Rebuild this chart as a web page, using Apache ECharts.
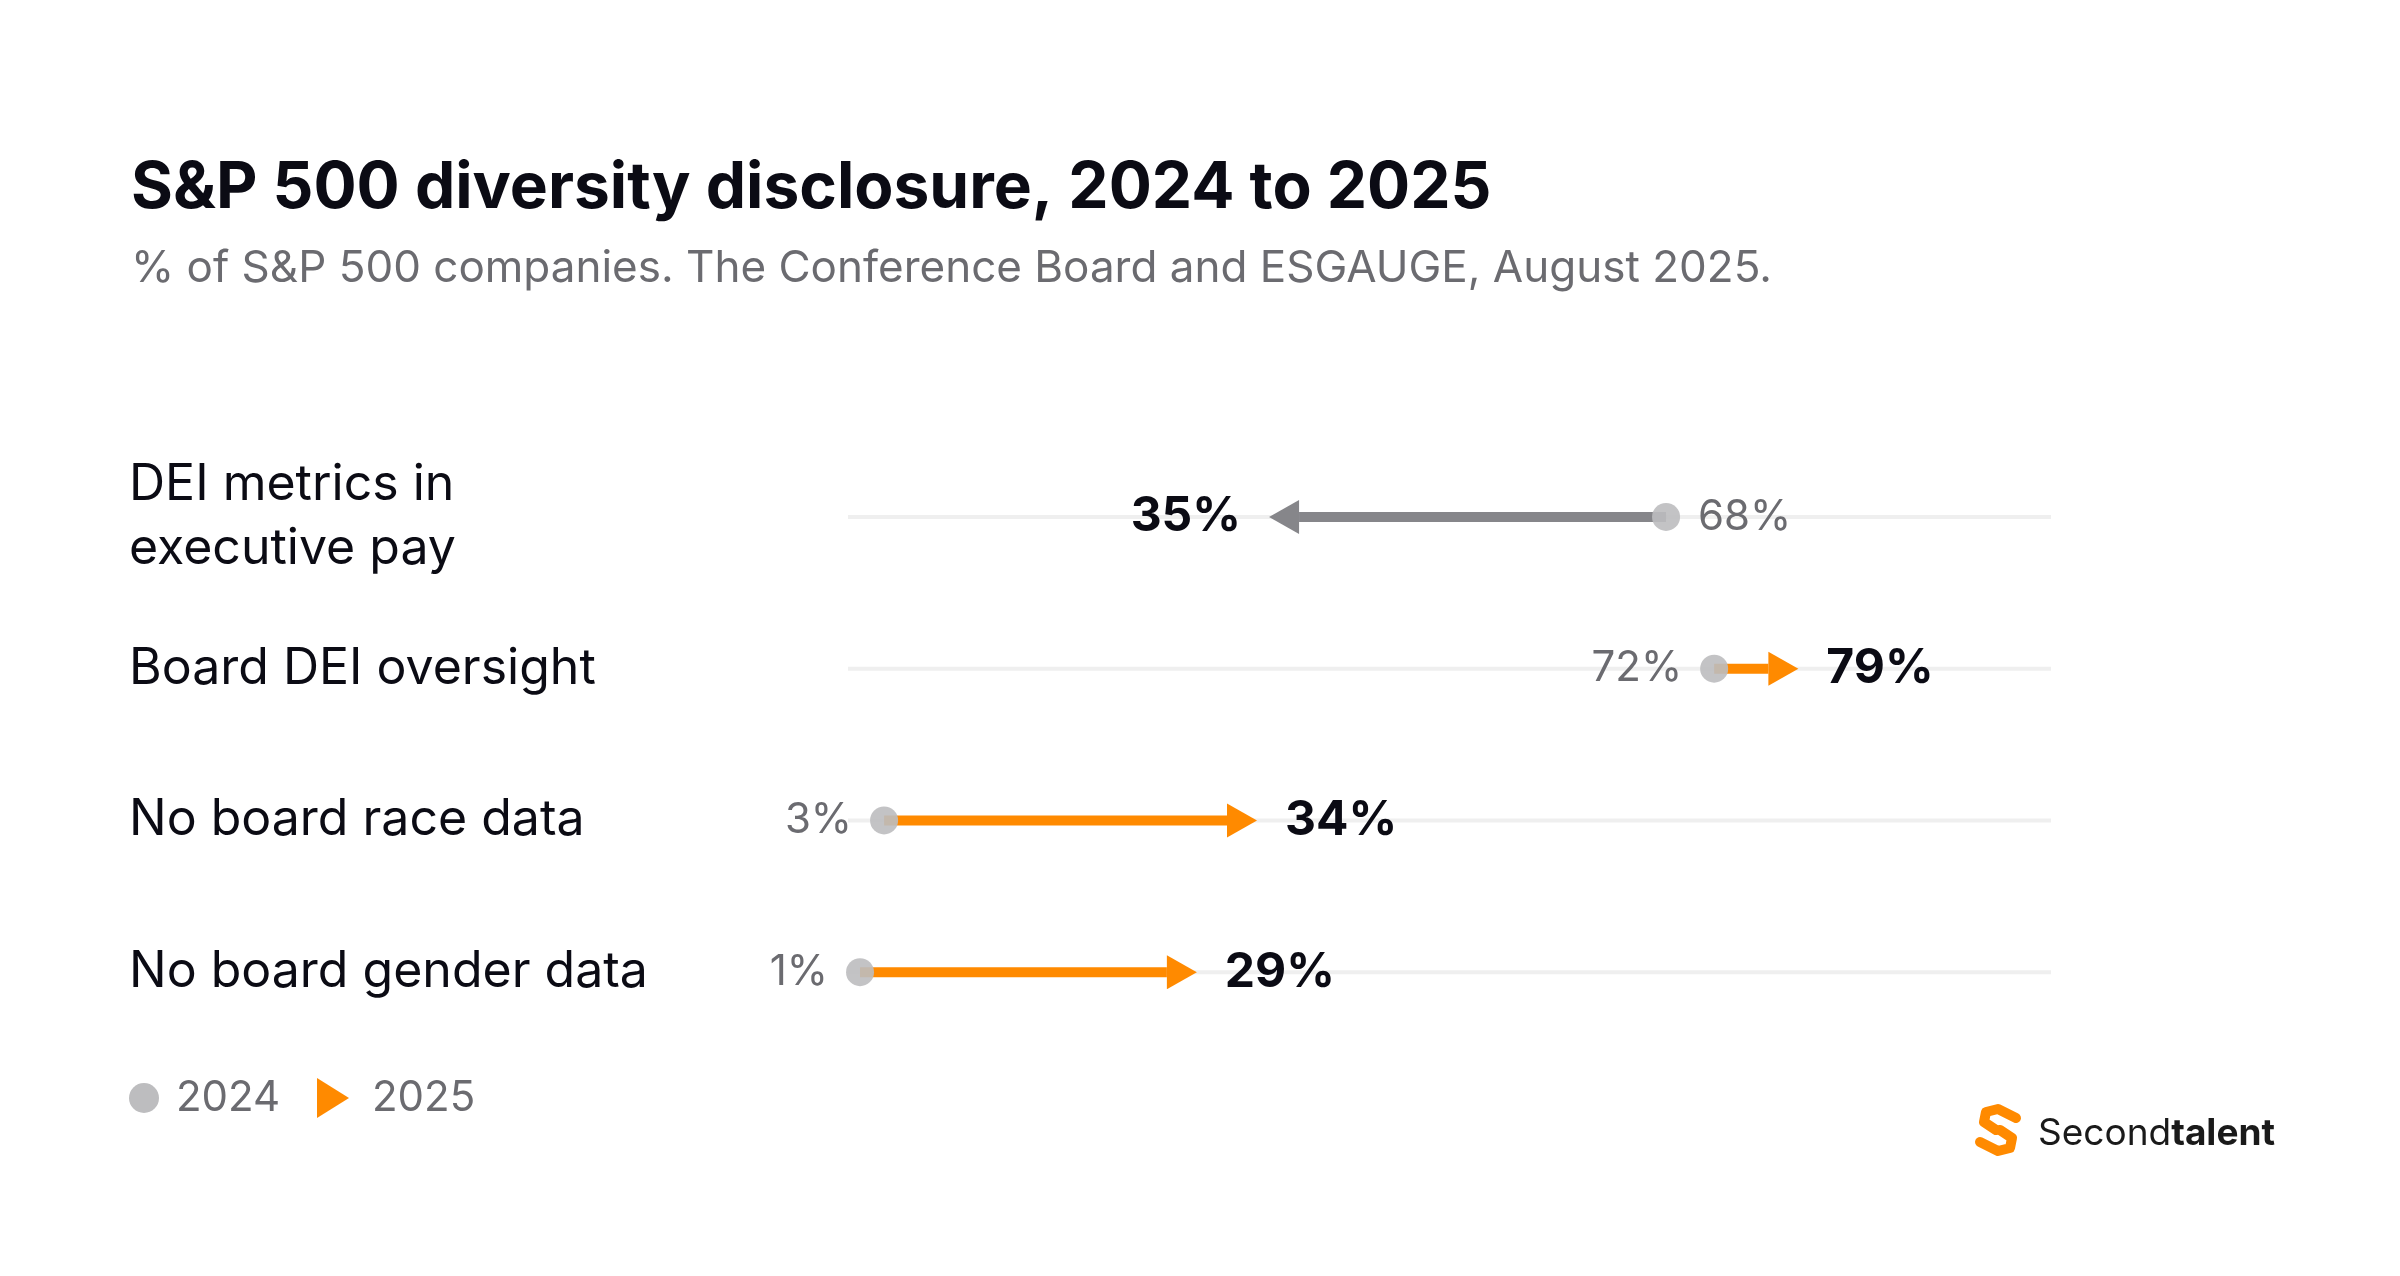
<!DOCTYPE html>
<html>
<head>
<meta charset="utf-8">
<style>html,body{margin:0;padding:0;background:#fff}#main{width:2400px;height:1276px}</style>
<script src="https://cdn.jsdelivr.net/npm/echarts@6/dist/echarts.min.js"></script>
</head>
<body>
<div id="main"></div>
<script>
var categories = ["DEI metrics in\nexecutive pay", "Board DEI oversight", "No board race data", "No board gender data"];
var values2024 = [68, 72, 3, 1];
var values2025 = [35, 79, 34, 29];

var FONT = "Inter, 'Noto Sans', sans-serif";
var ORANGE = "#ff8a00";

var myChart = echarts.init(document.getElementById("main"));

var data = categories.map(function (c, i) { return [values2024[i], values2025[i], i]; });

function renderArrow(params, api) {
  var a = api.coord([api.value(0), api.value(2)]);
  var b = api.coord([api.value(1), api.value(2)]);
  var dir = b[0] > a[0] ? 1 : -1;
  var color = dir < 0 ? "#86868a" : ORANGE;
  var headL = 30, headH = 17;
  var base = b[0] - dir * headL;
  var kids = [
    { type: "line", shape: { x1: a[0], y1: a[1], x2: base, y2: b[1] }, style: { stroke: color, lineWidth: 10 } },
    { type: "polygon", shape: { points: [[b[0], b[1]], [base, b[1] - headH], [base, b[1] + headH]] }, style: { fill: color } },
    { type: "circle", shape: { cx: a[0], cy: a[1], r: 14 }, style: { fill: "#bdbdbf", opacity: 0.9 } },
    { type: "text", x: a[0] - dir * 32, y: a[1], style: { text: api.value(0) + "%", fill: "#6b6b70", font: "400 42px " + FONT, align: dir > 0 ? "right" : "left", verticalAlign: "middle" } },
    { type: "text", x: b[0] + dir * 28, y: b[1], style: { text: api.value(1) + "%", fill: "#0b0b14", font: "700 48px " + FONT, align: dir > 0 ? "left" : "right", verticalAlign: "middle" } }
  ];
  return { type: "group", children: kids };
}

var option = {
  backgroundColor: "#fff",
  animation: false,
  title: {
    text: "S&P 500 diversity disclosure, 2024 to 2025",
    subtext: "% of S&P 500 companies. The Conference Board and ESGAUGE, August 2025.",
    left: 126, top: 152,
    itemGap: 26,
    textStyle: { fontFamily: FONT, fontSize: 64, fontWeight: 700, color: "#0b0b14" },
    subtextStyle: { fontFamily: FONT, fontSize: 44, color: "#6b6b70" }
  },
  grid: { left: 848, right: 349, top: 441, bottom: 228 },
  xAxis: { type: "value", min: 0, max: 100, show: false },
  yAxis: {
    type: "category", data: categories, inverse: true,
    axisLine: { show: false }, axisTick: { show: false },
    splitLine: { show: false },
    axisLabel: { align: "left", margin: 719, fontFamily: FONT, fontSize: 50, color: "#0b0b14", lineHeight: 64 }
  },
  series: [
    {
      type: "bar", silent: true, barWidth: 4, barGap: "-100%",
      data: categories.map(function () { return 100; }),
      itemStyle: { color: "#efefef" }, z: 1
    },
    { type: "custom", renderItem: renderArrow, data: data, z: 5 }
  ],
  graphic: [
    { type: "circle", shape: { cx: 144, cy: 1098, r: 15 }, style: { fill: "#bdbdbf" } },
    { type: "text", x: 176, y: 1098, style: { text: "2024", fill: "#6b6b70", font: "400 42px " + FONT, verticalAlign: "middle" } },
    { type: "polygon", shape: { points: [[317, 1078], [349, 1098], [317, 1118]] }, style: { fill: ORANGE } },
    { type: "text", x: 372, y: 1098, style: { text: "2025", fill: "#6b6b70", font: "400 42px " + FONT, verticalAlign: "middle" } },
    { type: "polyline", shape: { points: [[2016, 1118], [1998, 1109], [1986, 1112], [1984, 1122], [1996, 1130]] }, style: { stroke: ORANGE, lineWidth: 10, fill: null, lineCap: "round", lineJoin: "round" } },
    { type: "polyline", shape: { points: [[1980, 1142], [1998, 1151], [2010, 1148], [2012, 1138], [2000, 1130]] }, style: { stroke: ORANGE, lineWidth: 10, fill: null, lineCap: "round", lineJoin: "round" } },
    { type: "text", x: 2038, y: 1134, style: {
      text: "{a|Second}{b|talent}", verticalAlign: "middle",
      rich: {
        a: { fill: "#1a1a1a", fontFamily: FONT, fontSize: 37, fontWeight: 400 },
        b: { fill: "#1a1a1a", fontFamily: FONT, fontSize: 37, fontWeight: 700 }
      }
    } }
  ]
};

myChart.setOption(option);
</script>
</body>
</html>
